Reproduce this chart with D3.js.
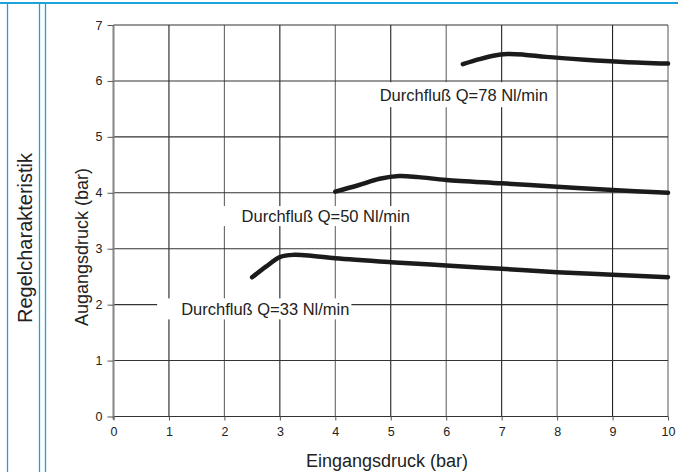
<!DOCTYPE html>
<html><head><meta charset="utf-8">
<script src="https://cdn.jsdelivr.net/npm/d3@7"></script>
<style>html,body{margin:0;padding:0;background:#fff;}svg{display:block;font-family:"Liberation Sans",Arial,sans-serif;}</style>
</head><body>
<svg id="c" width="678" height="472"></svg>
<script>
const xTicks = [0,1,2,3,4,5,6,7,8,9,10];
const yTicks = [0,1,2,3,4,5,6,7];
const seriesNames = ["Durchfluß Q=33 Nl/min","Durchfluß Q=50 Nl/min","Durchfluß Q=78 Nl/min"];
const q33 = [[2.5,2.49],[2.75,2.68],[3.0,2.85],[3.25,2.89],[3.6,2.87],[4,2.83],[5,2.76],[6,2.70],[7,2.64],[8,2.58],[9,2.535],[10,2.49]];
const q50 = [[4.0,4.02],[4.4,4.13],[4.8,4.25],[5.15,4.30],[5.5,4.28],[6,4.23],[7,4.17],[8,4.11],[9,4.05],[10,4.0]];
const q78 = [[6.3,6.30],[6.6,6.39],[6.85,6.45],[7.1,6.48],[7.4,6.47],[7.8,6.43],[8.5,6.38],[9.2,6.34],[10,6.31]];
const labelPos = [[1.22,1.92],[2.31,3.58],[4.8,5.75]];
const xTitle = "Eingangsdruck (bar)";
const yTitle = "Augangsdruck (bar)";
const sideTitle = "Regelcharakteristik";

const svg = d3.select("#c");
const blue = "#1ba3dc";
svg.append("line").attr("x1",0).attr("x2",678).attr("y1",3).attr("y2",3).attr("stroke",blue).attr("stroke-width",2);
[7.5,39.5,45.5].forEach(x=>svg.append("line").attr("x1",x).attr("x2",x).attr("y1",3).attr("y2",472).attr("stroke",blue).attr("stroke-width",1.3));

const x = d3.scaleLinear().domain([0,10]).range([113.5,668]);
const y = d3.scaleLinear().domain([0,7]).range([416.5,25]);

const g = svg.append("g");
g.selectAll(".gx").data(xTicks).join("line").attr("x1",d=>x(d)).attr("x2",d=>x(d)).attr("y1",y(0)).attr("y2",y(7))
 .attr("stroke",(d,i)=>i%2?"#222":"#666").attr("stroke-width",1.1);
g.selectAll(".gy").data(yTicks).join("line").attr("x1",x(0)).attr("x2",x(10)).attr("y1",d=>y(d)).attr("y2",d=>y(d))
 .attr("stroke","#333").attr("stroke-width",1.1);
g.append("line").attr("x1",x(0)).attr("x2",x(0)).attr("y1",y(0)+3).attr("y2",y(7)).attr("stroke","#888").attr("stroke-width",2);
const xa = g.append("g").attr("transform",`translate(0,${y(0)})`).call(d3.axisBottom(x).tickValues(xTicks).tickSize(4).tickPadding(7).tickFormat(d3.format("d")));
const ya = g.append("g").attr("transform",`translate(${x(0)},0)`).call(d3.axisLeft(y).tickValues(yTicks).tickSize(6).tickPadding(5).tickFormat(d3.format("d")));
[xa,ya].forEach(a=>{a.select(".domain").remove();a.selectAll("line").attr("stroke","#555");a.selectAll("text").attr("font-size",12.5).attr("fill","#222").attr("font-family","Liberation Sans, Arial, sans-serif");});

const pads = [[24,1.5],[27,1],[8,3.5]];
labelPos.forEach((p,i)=>{
  const t = g.append("text").attr("x",x(p[0])).attr("y",y(p[1])).attr("dy","0.35em").attr("font-size",16.5).attr("fill","#222").text(seriesNames[i]);
  const b = t.node().getBBox();
  g.insert("rect",()=>t.node()).attr("x",b.x-pads[i][0]).attr("y",b.y-pads[i][1]).attr("width",b.width+pads[i][0]+2).attr("height",b.height+2*pads[i][1]).attr("fill","#fff");
});

const line = d3.line().x(d=>x(d[0])).y(d=>y(d[1])).curve(d3.curveCatmullRom.alpha(0.5));
[q33,q50,q78].forEach(s=>g.append("path").attr("d",line(s)).attr("fill","none").attr("stroke","#1c1a1a").attr("stroke-width",4.5).attr("stroke-linecap","round"));

svg.append("text").attr("x",387).attr("y",467).attr("text-anchor","middle").attr("font-size",18).attr("fill","#222").text(xTitle);
svg.append("text").attr("transform",`translate(88,247) rotate(-90)`).attr("text-anchor","middle").attr("font-size",18).attr("fill","#222").text(yTitle);
svg.append("text").attr("transform",`translate(32,238) rotate(-90)`).attr("text-anchor","middle").attr("font-size",20).attr("fill","#222").text(sideTitle);
</script>
</body></html>
